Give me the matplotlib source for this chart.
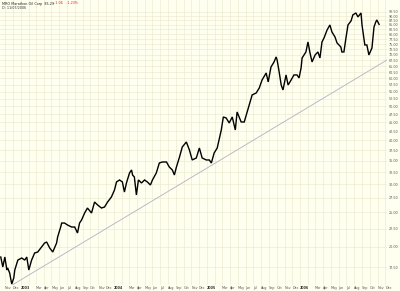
import numpy as np
import pandas as pd
import matplotlib
matplotlib.use('Agg')
import matplotlib.pyplot as plt
from matplotlib.ticker import FixedLocator, NullLocator

# closing prices (MRO, Oct 2002 - Nov 2006)
datas = ['2002-10-15', '2002-10-23', '2002-10-31', '2002-11-08', '2002-11-11', '2002-11-19',
         '2002-11-27', '2002-12-05', '2002-12-09', '2002-12-21', '2003-01-05', '2003-01-17',
         '2003-01-25', '2003-02-02', '2003-02-13', '2003-02-25', '2003-03-09', '2003-03-24',
         '2003-04-05', '2003-04-13', '2003-04-25', '2003-05-07', '2003-05-22', '2003-05-26',
         '2003-06-07', '2003-06-11', '2003-06-22', '2003-07-04', '2003-07-20', '2003-08-01',
         '2003-08-12', '2003-08-20', '2003-08-28', '2003-09-09', '2003-09-20', '2003-10-06',
         '2003-10-18', '2003-10-30', '2003-11-14', '2003-11-26', '2003-12-08', '2003-12-23',
         '2004-01-04', '2004-01-12', '2004-01-24', '2004-02-04', '2004-02-12', '2004-02-20',
         '2004-03-03', '2004-03-11', '2004-03-15', '2004-03-22', '2004-03-30', '2004-04-07',
         '2004-04-19', '2004-05-01', '2004-05-12', '2004-05-24', '2004-06-01', '2004-06-16',
         '2004-06-28', '2004-07-10', '2004-07-26', '2004-08-06', '2004-08-18', '2004-08-26',
         '2004-09-03', '2004-09-14', '2004-09-26', '2004-10-12', '2004-10-24', '2004-11-04',
         '2004-11-20', '2004-12-02', '2004-12-13', '2004-12-29', '2005-01-10', '2005-01-18',
         '2005-01-29', '2005-02-10', '2005-02-26', '2005-03-06', '2005-03-17', '2005-03-29',
         '2005-04-10', '2005-04-22', '2005-04-29', '2005-05-15', '2005-05-27', '2005-06-04',
         '2005-06-15', '2005-06-27', '2005-07-13', '2005-07-25', '2005-08-05', '2005-08-21',
         '2005-08-29', '2005-09-09', '2005-09-21', '2005-09-29', '2005-10-03', '2005-10-11',
         '2005-10-19', '2005-10-26', '2005-11-07', '2005-11-15', '2005-11-27', '2005-12-08',
         '2005-12-20', '2005-12-28', '2006-01-05', '2006-01-09', '2006-01-24', '2006-02-01',
         '2006-02-09', '2006-02-17', '2006-03-01', '2006-03-12', '2006-03-20', '2006-03-28',
         '2006-04-05', '2006-04-17', '2006-04-28', '2006-05-06', '2006-05-18', '2006-05-26',
         '2006-06-10', '2006-06-14', '2006-06-22', '2006-06-30', '2006-07-08', '2006-07-20',
         '2006-07-27', '2006-08-08', '2006-08-16', '2006-08-28', '2006-09-01', '2006-09-12',
         '2006-09-20', '2006-09-28', '2006-10-10', '2006-10-18', '2006-10-25', '2006-10-29',
         '2006-11-07']

precos = [18.69, 17.51, 18.69, 17.17, 17.40, 16.83,
          15.67, 16.30, 17.17, 18.32, 18.57, 18.32,
          18.69, 17.17, 18.32, 19.19, 19.31, 19.94,
          20.48, 20.61, 19.82, 19.31, 20.48, 21.29,
          22.73, 23.33, 23.33, 23.03, 22.73, 22.73,
          21.86, 23.33, 23.80, 24.91, 25.73, 24.91,
          26.76, 26.24, 25.73, 25.90, 26.76, 27.65,
          28.94, 30.50, 30.90, 30.50, 28.56, 30.30,
          32.34, 32.98, 31.92, 31.51, 28.02, 30.90,
          30.30, 30.90, 30.50, 29.90, 30.90, 32.34,
          34.52, 34.75, 34.75, 33.63, 32.98, 31.92,
          33.63, 35.67, 38.32, 39.59, 37.57, 35.21,
          35.67, 38.07, 35.67, 35.21, 35.21, 34.52,
          36.85, 38.07, 42.82, 46.61, 46.31, 44.83,
          46.61, 42.82, 48.16, 45.11, 45.11, 47.22,
          50.41, 53.81, 54.52, 56.33, 59.34, 62.11,
          58.58, 64.60, 66.74, 68.96, 67.62, 62.53,
          57.43, 55.59, 61.32, 57.43, 59.34, 61.32,
          61.32, 60.13, 64.18, 68.51, 71.24, 76.05,
          70.78, 66.74, 69.86, 71.24, 68.51, 76.05,
          78.06, 82.24, 84.97, 81.18, 78.57, 75.56,
          73.60, 71.24, 71.24, 78.06, 84.97, 87.23,
          90.71, 91.90, 89.53, 91.90, 84.97, 74.57,
          74.57, 69.86, 73.13, 83.87, 86.65, 87.79,
          85.29]

# linha de tendencia (dois pontos, escala log)
tendencia_datas = ['2002-12-01', '2006-12-15']
tendencia_precos = [15.6, 68.1]

meses_inicio = pd.date_range('2002-11-01', '2006-12-01', freq='MS')
rotulos_meses = []
for m in meses_inicio:
    if m.month == 1:
        rotulos_meses.append(str(m.year))
    elif m.month == 2:
        rotulos_meses.append('')
    else:
        rotulos_meses.append(m.strftime('%b'))

niveis = np.arange(17.5, 93.0, 2.5)

fundo = '#fffff0'
grade = '#ebe7cd'

fig = plt.figure(figsize=(4.0, 2.91), dpi=100, facecolor=fundo)
ax = fig.add_axes([0.0, 6 / 291, 387 / 400, 285 / 291])
ax.set_facecolor(fundo)

x = pd.to_datetime(datas)
ax.plot(x, precos, color='black', lw=1.0, solid_joinstyle='miter')
ax.plot(pd.to_datetime(tendencia_datas), tendencia_precos, color='#b4aec4', lw=0.6)

ax.set_yscale('log')
ax.set_ylim(15.57, 100.0)
ax.set_xlim(pd.Timestamp('2002-10-12'), pd.Timestamp('2006-12-08'))

ax.yaxis.set_major_locator(FixedLocator(niveis))
ax.yaxis.set_minor_locator(NullLocator())
ax.set_yticklabels([f'{v:.2f}' for v in niveis])
ax.yaxis.tick_right()
ax.tick_params(axis='y', length=0, pad=1.5, labelsize=2.4, labelcolor='#555555')

ax.set_xticks(meses_inicio)
ax.set_xticklabels(rotulos_meses)
ax.xaxis.set_minor_locator(NullLocator())
ax.tick_params(axis='x', length=0, pad=0.8, labelsize=2.4, labelcolor='#555555')
for lab in ax.get_xticklabels():
    lab.set_horizontalalignment('left')
    if lab.get_text().isdigit():
        lab.set_fontweight('bold')
        lab.set_color('#333333')

ax.grid(True, color=grade, lw=0.4)
ax.set_axisbelow(True)
for s in ax.spines.values():
    s.set_visible(False)

fig.text(0.006, 1 - 3.5 / 291, 'MRO Marathon Oil Corp  85.29', fontsize=2.4,
         color='#222222', va='center')
fig.text(0.135, 1 - 3.5 / 291, '-1.06   -1.23%', fontsize=2.4, color='#dd2222',
         va='center')
fig.text(0.006, 1 - 8 / 291, 'D: 11/07/2006', fontsize=2.4, color='#333333',
         va='center')

fig.savefig('out.png', dpi=100, facecolor=fundo)
